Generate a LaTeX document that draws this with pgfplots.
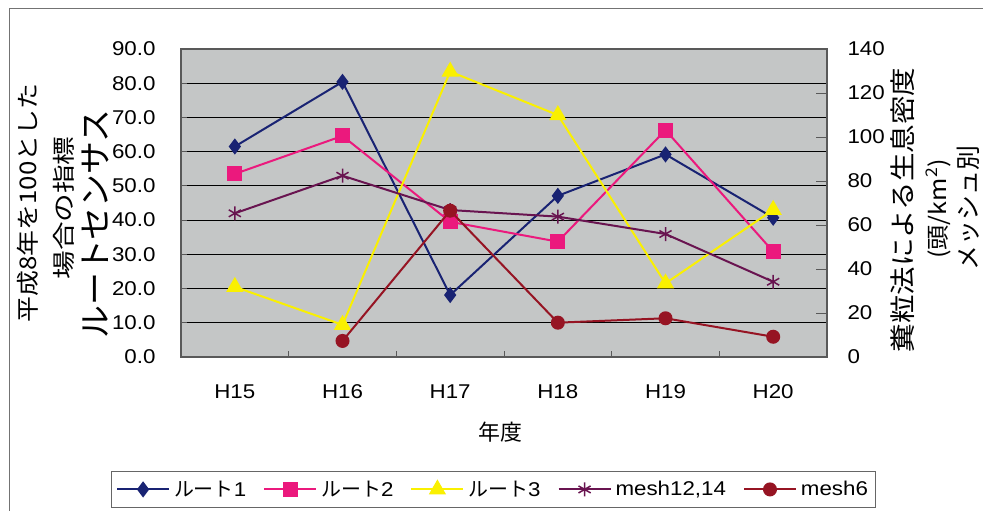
\documentclass[border=0pt]{standalone}
\usepackage{pgfplots}
\pgfplotsset{compat=1.18}
\usepackage{fontspec}
\setmainfont{Liberation Sans}[FakeStretch=1.12]
\newfontfamily\jp{Noto Sans CJK JP}
\newfontfamily\jpa{Noto Sans CJK JP}[FakeStretch=1.13]
\newfontfamily\jpb{Noto Sans CJK JP}[FakeStretch=1.25]
\newfontfamily\jpc{Noto Sans CJK JP}[FakeStretch=1.1]
\definecolor{navy}{RGB}{25,35,115}
\definecolor{pinkc}{RGB}{235,25,125}
\definecolor{yellowc}{RGB}{250,240,0}
\definecolor{purplec}{RGB}{105,20,80}
\definecolor{darkredc}{RGB}{150,20,35}
\definecolor{plotbg}{RGB}{196,198,198}
\pgfplotsset{
  r1/.style={color=navy, line width=2bp, mark=diamond*, mark size=6.5bp, mark options={solid}},
  r2/.style={color=pinkc, line width=2bp, mark=square*, mark size=6.5bp, mark options={solid}},
  r3/.style={color=yellowc, line width=2bp, mark=triangle*, mark size=8bp, mark options={solid}},
  m1/.style={color=purplec, line width=2bp, mark=asterisk, mark size=7bp, mark options={solid, line width=1.5bp}},
  m2/.style={color=darkredc, line width=2bp, mark=*, mark size=6bp, mark options={solid}},
}
\begin{document}
\begin{tikzpicture}[x=1bp,y=1bp]
\path[use as bounding box] (0,0) rectangle (983,511);
\draw[black!55, line width=1bp] (9,0) -- (9,502) -- (983,502);
\begin{axis}[
  at={(181bp,154bp)}, anchor=south west, scale only axis,
  width=646bp, height=308bp,
  xmin=-0.5, xmax=5.5, ymin=0, ymax=90,
  xtick={0,...,5}, xticklabels={H15,H16,H17,H18,H19,H20},
  major x tick style={draw=none},
  minor xtick={0.5,1.5,...,4.5}, minor tick length=6bp,
  xtick pos=bottom, ytick pos=left,
  ytick={0,10,...,90}, major tick length=6bp,
  ymajorgrids, grid style={black, line width=0.8bp},
  axis background/.style={fill=plotbg},
  axis line style={draw=black!65, line width=1.2bp},
  tick style={black!65, line width=0.8bp},
  /pgf/number format/assume math mode=true,
  yticklabel style={/pgf/number format/.cd, fixed, fixed zerofill, precision=1, /tikz/.cd, font=\fontsize{20}{24}\selectfont, xshift=-22bp},
  xticklabel style={font=\fontsize{20}{24}\selectfont, yshift=-24bp},
]
\addplot[r1] coordinates {(0,61.5) (1,80.4) (2,18.1) (3,47.1) (4,59.2) (5,40.7)};
\addplot[r2] coordinates {(0,53.5) (1,64.6) (2,39.5) (3,33.7) (4,66.3) (5,30.8)};
\addplot[r3] coordinates {(0,20.5) (1,9.4) (2,83.4) (3,70.7) (4,21.5) (5,43.0)};
\end{axis}
\begin{axis}[
  at={(181bp,154bp)}, anchor=south west, scale only axis,
  width=646bp, height=308bp,
  xmin=-0.5, xmax=5.5, ymin=0, ymax=140,
  axis x line=none, axis y line*=right,
  ytick={0,20,...,140}, major tick length=11bp,
  axis line style={draw=black!65, line width=1.2bp},
  tick style={black!65, line width=0.8bp},
  /pgf/number format/assume math mode=true,
  yticklabel style={font=\fontsize{20}{24}\selectfont, anchor=west, xshift=17bp},
  legend columns=5,
  legend style={at={(0.483,-0.430)}, anchor=center, draw=black!60, line width=0.8bp,
    font=\fontsize{20}{24}\selectfont, inner xsep=5bp, inner ysep=8bp,
    /tikz/every odd column/.append style={column sep=2bp},
    /tikz/every even column/.append style={column sep=15bp}},
  legend image code/.code={\draw[mark repeat=2, mark phase=2, #1] plot coordinates {(0bp,0bp) (26bp,0bp) (52bp,0bp)};},
]
\addlegendimage{r1}\addlegendentry{{\jp ルート}1}
\addlegendimage{r2}\addlegendentry{{\jp ルート}2}
\addlegendimage{r3}\addlegendentry{{\jp ルート}3}
\addplot[m1] coordinates {(0,65.3) (1,82.4) (2,66.8) (3,63.8) (4,55.9) (5,34.2)};
\addlegendentry{mesh12,14}
\addplot[m2] coordinates {(1,7.3) (2,66.5) (3,15.6) (4,17.6) (5,9.2)};
\addlegendentry{mesh6}
\end{axis}
\node[rotate=90, font=\jpa\fontsize{23}{26}\selectfont] at (28,308) {平成8年を100とした};
\node[rotate=90, font=\jpb\fontsize{23}{26}\selectfont] at (64,303) {場合の指標};
\node[rotate=90, font=\jp\fontsize{33}{36}\selectfont] at (95,287) {ルートセンサス};
\node[rotate=90, font=\jpc\fontsize{26}{30}\selectfont] at (903,301) {糞粒法による生息密度};
\node[rotate=90, font=\jpc\fontsize{23}{26}\selectfont] at (938,302) {(頭/km\textsuperscript{2})};
\node[rotate=90, font=\jp\fontsize{25}{28}\selectfont] at (968,303) {メッシュ別};
\node[font=\jp\fontsize{22}{26}\selectfont] at (500,79) {年度};
\end{tikzpicture}
\end{document}
